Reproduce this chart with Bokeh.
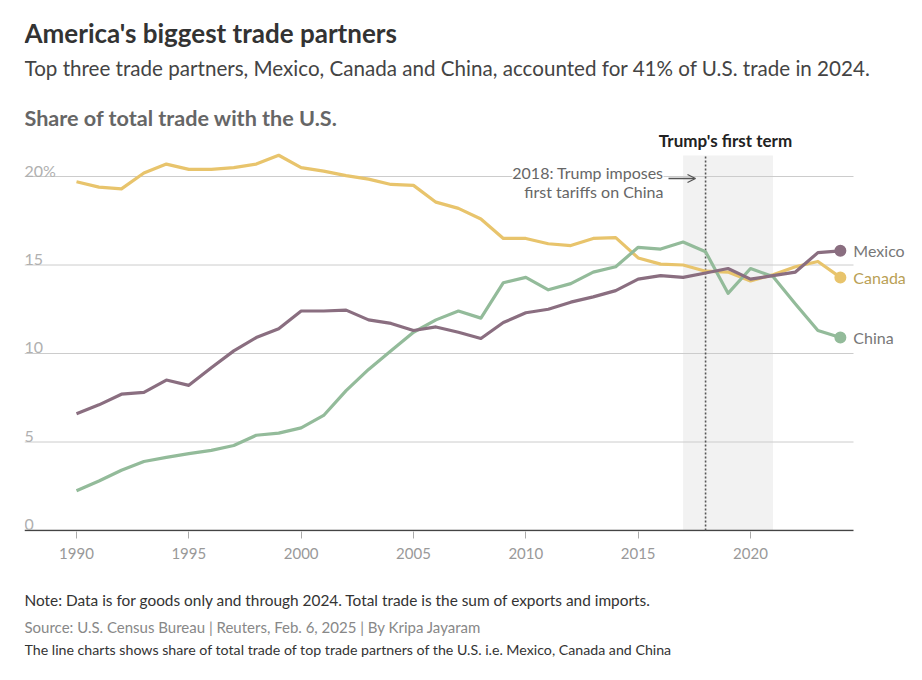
from bokeh.plotting import figure
from bokeh.layouts import column
from bokeh.models import Label, BoxAnnotation, Arrow, OpenHead, FixedTicker, Range1d
from bokeh.embed import file_html
from bokeh.resources import INLINE

years = list(range(1990, 2025))
canada = [19.7, 19.4, 19.3, 20.2, 20.7, 20.4, 20.4, 20.5, 20.7, 21.2,
          20.5, 20.3, 20.05, 19.85, 19.55, 19.5, 18.55, 18.2, 17.6, 16.5,
          16.5, 16.2, 16.1, 16.5, 16.55, 15.4, 15.05, 15.0, 14.65, 14.6,
          14.1, 14.45, 14.9, 15.2, 14.3]
mexico = [6.6, 7.1, 7.7, 7.8, 8.5, 8.2, 9.2, 10.15, 10.9, 11.4,
          12.4, 12.4, 12.45, 11.9, 11.7, 11.3, 11.5, 11.2, 10.85, 11.75,
          12.3, 12.5, 12.9, 13.2, 13.55, 14.2, 14.4, 14.3, 14.55, 14.8,
          14.2, 14.4, 14.6, 15.7, 15.8]
china = [2.25, 2.8, 3.4, 3.9, 4.13, 4.34, 4.53, 4.8, 5.38, 5.5,
         5.8, 6.5, 7.9, 9.1, 10.15, 11.2, 11.9, 12.4, 12.0, 14.0,
         14.3, 13.6, 13.95, 14.6, 14.9, 16.0, 15.9, 16.3, 15.75, 13.4,
         14.8, 14.35, 12.8, 11.3, 10.9]

series_names = ["Canada", "China", "Mexico"]
series_values = [canada, china, mexico]
series_colors = ["#e8c46c", "#93bb9a", "#8a6e80"]
label_colors = ["#b9a055", "#777777", "#777777"]

xticks = [1990, 1995, 2000, 2005, 2010, 2015, 2020]
ytick_vals = [0, 5, 10, 15, 20]
ytick_labels = ["0", "5", "10", "15", "20%"]

term_start, term_end = 2017, 2021
tariff_year = 2018

FONT = "Lato"

# layout constants (pixels)
PX_PER_YEAR = 674 / 30.0
PX_PER_UNIT = 17.7
FRAME_LEFT, FRAME_RIGHT, FRAME_BOTTOM = 24, 906, 531
X0 = 1990 - (76 - FRAME_LEFT) / PX_PER_YEAR
X1 = 1990 + (FRAME_RIGHT - 76) / PX_PER_YEAR
GRID_END = 1990 + (853 - 76) / PX_PER_YEAR
Y0 = -1 / PX_PER_UNIT
Y1 = 530 / PX_PER_UNIT
SHADE_TOP = (530 - 155) / PX_PER_UNIT

H1 = 570
p = figure(width=906, height=H1, output_backend="svg", toolbar_location=None,
           x_range=Range1d(X0, X1), y_range=Range1d(Y0, Y1),
           min_border_left=FRAME_LEFT, min_border_right=906 - FRAME_RIGHT,
           min_border_top=0, min_border_bottom=H1 - FRAME_BOTTOM)
p.outline_line_color = None
p.background_fill_color = "white"
p.border_fill_color = "white"
p.xgrid.visible = False
p.ygrid.visible = False
p.yaxis.visible = False

p.xaxis.ticker = FixedTicker(ticks=xticks)
p.xaxis.axis_line_color = None
p.xaxis.major_tick_line_color = "#aaaaaa"
p.xaxis.major_tick_out = 7
p.xaxis.major_tick_in = 0
p.xaxis.minor_tick_line_color = None
p.xaxis.major_label_standoff = 9
p.xaxis.major_label_text_font = FONT
p.xaxis.major_label_text_font_size = "15px"
p.xaxis.major_label_text_color = "#999999"

# shaded first term
p.add_layout(BoxAnnotation(left=term_start, right=term_end, bottom=0, top=SHADE_TOP,
                           fill_color="#f2f2f2", fill_alpha=1, line_color=None,
                           level="image"))

# gridlines and baseline
grid_vals = ytick_vals[1:]
p.segment(x0=[X0] * len(grid_vals), y0=grid_vals, x1=[GRID_END] * len(grid_vals),
          y1=grid_vals, line_color="#cccccc", line_width=1)
p.segment(x0=[X0], y0=[ytick_vals[0]], x1=[GRID_END], y1=[ytick_vals[0]],
          line_color="#444444", line_width=1.5)

p.segment(x0=[tariff_year], y0=[0], x1=[tariff_year], y1=[SHADE_TOP],
          line_color="#555555", line_width=1.6, line_dash="2 2")

for name, vals, col in zip(series_names, series_values, series_colors):
    p.line(years, vals, line_color=col, line_width=3.2, line_join="round")
for name, vals, col, lcol in zip(series_names, series_values, series_colors, label_colors):
    p.scatter([years[-1]], [vals[-1]], size=12, fill_color=col, line_color=None)
    p.add_layout(Label(x=years[-1], y=vals[-1], x_offset=13, text=name,
                       text_baseline="middle", text_font=FONT,
                       text_font_size="16px", text_color=lcol))

for v, lab in zip(ytick_vals, ytick_labels):
    p.add_layout(Label(x=0, x_units="screen", y=v, y_offset=6, text=lab,
                       text_baseline="alphabetic", text_font=FONT,
                       text_font_size="16px", text_color="#b0b0b0"))


def pg(x, y):
    return x - FRAME_LEFT, FRAME_BOTTOM - y


ax, ay = pg(663, 172)
p.add_layout(Label(x=ax, y=ay, x_units="screen", y_units="screen",
                   text="2018: Trump imposes", text_align="right",
                   text_baseline="middle", text_font=FONT, text_font_size="16px",
                   text_color="#666666", background_fill_color="white"))
ax, ay = pg(663, 191)
p.add_layout(Label(x=ax, y=ay, x_units="screen", y_units="screen",
                   text="first tariffs on China", text_align="right",
                   text_baseline="middle", text_font=FONT, text_font_size="16px",
                   text_color="#666666", background_fill_color="white"))
sx0, sy0 = pg(668, 178)
sx1, sy1 = pg(695, 178)
p.add_layout(Arrow(x_start=sx0, y_start=sy0, x_end=sx1, y_end=sy1,
                   start_units="screen", end_units="screen",
                   line_color="#555555", line_width=1.3,
                   end=OpenHead(size=8, line_color="#555555", line_width=1.3)))
tx, ty = pg(725, 140)
p.add_layout(Label(x=tx, y=ty, x_units="screen", y_units="screen",
                   text="Trump's first term", text_align="center",
                   text_baseline="middle", text_font=FONT, text_font_size="17px",
                   text_font_style="bold", text_color="#222222"))

head_texts = [
    ("America's biggest trade partners", 32, "26px", "bold", "#333333"),
    ("Top three trade partners, Mexico, Canada and China, accounted for 41% of U.S. trade in 2024.", 67, "20.6px", "normal", "#444444"),
    ("Share of total trade with the U.S.", 117, "21.6px", "bold", "#666666"),
]
for t, base, fs, style, col in head_texts:
    lx, ly = pg(24, base)
    p.add_layout(Label(x=lx, y=ly, x_units="screen", y_units="screen", text=t,
                       text_baseline="alphabetic", text_font=FONT,
                       text_font_size=fs, text_font_style=style, text_color=col))

# footer figure
H2 = 664 - H1
f = figure(width=906, height=H2, output_backend="svg", toolbar_location=None,
           x_range=Range1d(0, 906), y_range=Range1d(0, H2),
           min_border_left=0, min_border_right=0, min_border_top=0, min_border_bottom=0)
f.outline_line_color = None
f.axis.visible = False
f.grid.visible = False
f.border_fill_color = "white"

FOOT_SHIFT = 5
foot_texts = [
    ("Note: Data is for goods only and through 2024. Total trade is the sum of exports and imports.", 604, "15.4px", "#333333"),
    ("Source: U.S. Census Bureau | Reuters, Feb. 6, 2025 | By Kripa Jayaram", 631, "15px", "#888888"),
    ("The line charts shows share of total trade of top trade partners of the U.S. i.e. Mexico, Canada and China", 654, "14.2px", "#333333"),
]
for t, base, fs, col in foot_texts:
    f.add_layout(Label(x=0, y=664 - base + FOOT_SHIFT, x_units="screen", y_units="screen",
                       text=t, text_baseline="alphabetic", text_font=FONT,
                       text_font_size=fs, text_color=col))

layout = column(p, f, spacing=0)
open("out.html", "w").write(file_html(layout, INLINE))
